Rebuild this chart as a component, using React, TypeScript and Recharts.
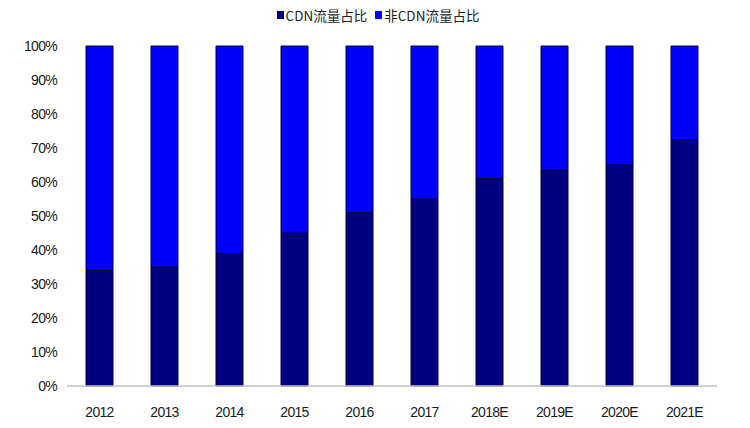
import React from "react";
import { BarChart, Bar, XAxis, YAxis } from "recharts";

const categories = ["2012", "2013", "2014", "2015", "2016", "2017", "2018E", "2019E", "2020E", "2021E"];
const cdnShare = [34, 35, 39, 45, 51, 55, 61, 63.5, 65, 72.5];
const nonCdnShare = cdnShare.map((v) => 100 - v);
const yTicks = [0, 10, 20, 30, 40, 50, 60, 70, 80, 90, 100];
const seriesNames = ["CDN流量占比", "非CDN流量占比"];
const seriesColors = ["#000080", "#0000FF"];

const data = categories.map((c, i) => ({ year: c, cdn: cdnShare[i], nonCdn: nonCdnShare[i] }));

const tickStyle = {
  fill: "#1a1a1a",
  fontSize: 14,
  fontFamily: "'Liberation Sans', Arial, sans-serif",
  letterSpacing: -0.7,
};

export default function App() {
  return (
    <div style={{ margin: "-8px 0 0 -8px", width: 750, height: 428, background: "#fff", position: "relative" }}>
      <div
        style={{
          position: "absolute",
          top: 7,
          left: 0,
          width: 750,
          display: "flex",
          justifyContent: "center",
          alignItems: "center",
          fontFamily: "'Noto Sans CJK SC', sans-serif",
          fontSize: 13.5,
          color: "#222",
          lineHeight: "16px",
          paddingLeft: 6,
          boxSizing: "border-box",
        }}
      >
        {seriesNames.map((n, i) => (
          <span key={n} style={{ display: "flex", alignItems: "center", marginRight: i === 0 ? 8 : 0 }}>
            <span style={{ display: "inline-block", width: 7, height: 8, background: seriesColors[i], marginRight: 2 }} />
            {n}
          </span>
        ))}
      </div>
      <BarChart width={750} height={428} data={data} margin={{ top: 46, right: 33, bottom: 0, left: 0 }} barSize={27}>
        <XAxis
          dataKey="year"
          height={42}
          tickLine={false}
          axisLine={{ stroke: "#c0c0c0", strokeWidth: 1.5 }}
          tick={tickStyle}
          tickMargin={15}
          interval={0}
        />
        <YAxis
          width={67}
          domain={[0, 100]}
          ticks={yTicks}
          tickFormatter={(v) => `${v}%`}
          axisLine={false}
          tickLine={false}
          tickMargin={4}
          tick={tickStyle}
        />
        <Bar dataKey="cdn" stackId="a" fill={seriesColors[0]} stroke="#000030" strokeWidth={1} isAnimationActive={false} />
        <Bar dataKey="nonCdn" stackId="a" fill={seriesColors[1]} stroke="#000030" strokeWidth={1} isAnimationActive={false} />
      </BarChart>
    </div>
  );
}
